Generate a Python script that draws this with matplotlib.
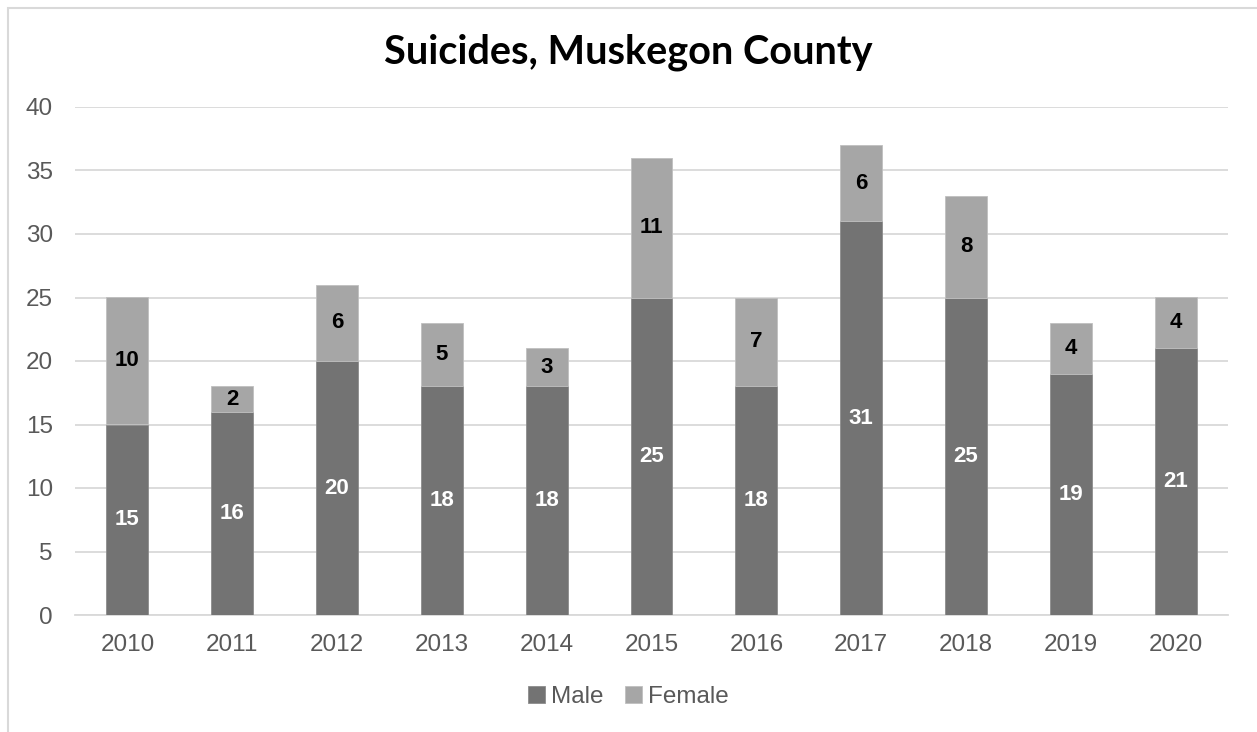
import matplotlib
matplotlib.use("Agg")
import matplotlib.pyplot as plt
from matplotlib.patches import Rectangle
import numpy as np

years = ["2010", "2011", "2012", "2013", "2014", "2015", "2016", "2017", "2018", "2019", "2020"]
male = [15, 16, 20, 18, 18, 25, 18, 31, 25, 19, 21]
female = [10, 2, 6, 5, 3, 11, 7, 6, 8, 4, 4]

W, H = 1257, 732
fig = plt.figure(figsize=(W / 100, H / 100), dpi=100)
fig.patch.set_facecolor("white")

# chart border (top and left visible)
fig.add_artist(Rectangle((8 / W, -0.1), 1.2, (H - 8) / H + 0.1, transform=fig.transFigure,
                         fill=False, edgecolor="#d9d9d9", linewidth=1.5))

ax = fig.add_axes([75 / W, 1 - 615 / H, (1228 - 75) / W, (615 - 107) / H])
x = np.arange(len(years))
male_c = "#737373"
female_c = "#a6a6a6"
bw = 0.4
b1 = ax.bar(x, male, bw, color=male_c, edgecolor="#8c8c8c", linewidth=0.6, label="Male", zorder=3)
b2 = ax.bar(x, female, bw, bottom=male, color=female_c, edgecolor="#bfbfbf", linewidth=0.6, label="Female", zorder=3)

for i in range(len(years)):
    ax.text(x[i], male[i] / 2, str(male[i]), ha="center", va="center", color="white",
            fontsize=16, fontweight="bold", family="Liberation Sans", zorder=4)
    ax.text(x[i], male[i] + female[i] / 2, str(female[i]), ha="center", va="center", color="black",
            fontsize=16, fontweight="bold", family="Liberation Sans", zorder=4)

ax.set_xlim(-0.5, len(years) - 0.5)
ax.set_ylim(0, 40)
ax.set_yticks(range(0, 41, 5))
ax.set_xticks(x)
ax.set_xticklabels(years)
ax.yaxis.grid(True, color="#d9d9d9", linewidth=1.3, zorder=0)
ax.set_axisbelow(True)
for s in ["top", "right", "left"]:
    ax.spines[s].set_visible(False)
ax.spines["bottom"].set_color("#d9d9d9")
ax.spines["bottom"].set_linewidth(1.3)
ax.tick_params(axis="both", length=0, labelsize=17.5, labelcolor="#595959")
ax.tick_params(axis="x", pad=14)
ax.tick_params(axis="y", pad=16)
for lbl in ax.get_xticklabels() + ax.get_yticklabels():
    lbl.set_family("Liberation Sans")

fig.text(0.5, 1 - 52 / H, "Suicides, Muskegon County", ha="center", va="center",
         fontsize=28.5, fontweight="bold", family="Lato", color="black")

leg = fig.legend(handles=[b1, b2], labels=["Male", "Female"], loc="center",
                 bbox_to_anchor=(0.5, 1 - 697 / H), ncol=2, frameon=False,
                 prop={"family": "Liberation Sans", "size": 17.5}, handlelength=0.7,
                 handleheight=0.7, handletextpad=0.25, columnspacing=0.9)
for t in leg.get_texts():
    t.set_color("#595959")

fig.savefig("out.png", dpi=100)
